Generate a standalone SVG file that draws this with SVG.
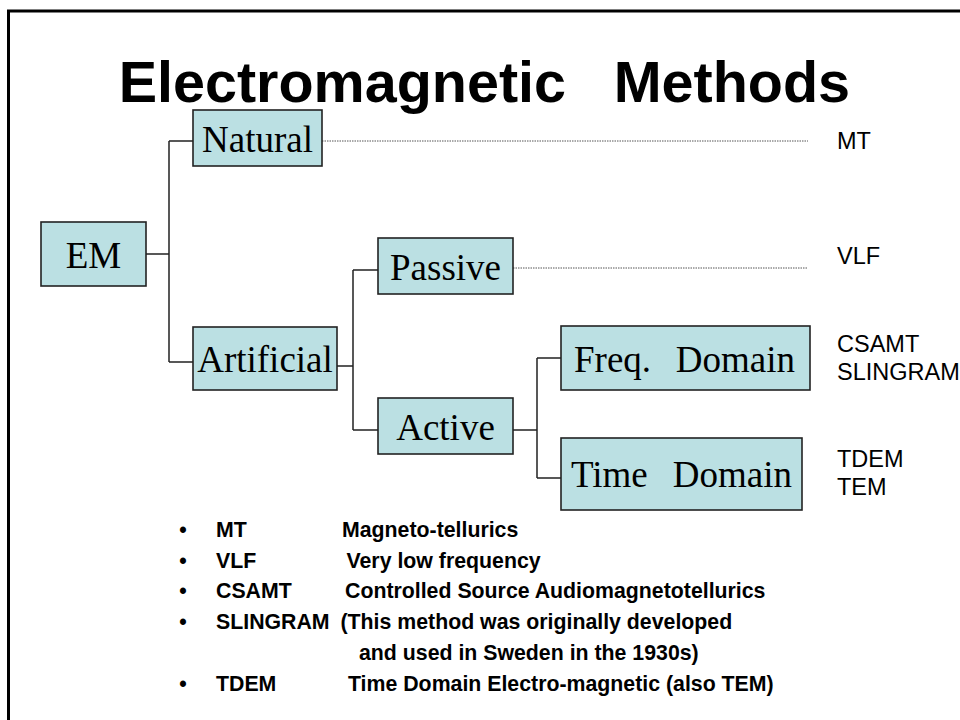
<svg xmlns="http://www.w3.org/2000/svg" width="960" height="720" viewBox="0 0 960 720">
<style>
.node rect{fill:#BBE0E3;stroke:#222;stroke-width:1.6}
.node text{font-family:"Liberation Serif","Times New Roman",serif;font-size:37px;fill:#000;text-anchor:middle}
.conn{fill:none;stroke:#222;stroke-width:1.5}
.dot{fill:none;stroke:#555;stroke-width:1;stroke-dasharray:1.5 1}
.lbl{font-family:"Liberation Sans",Arial,sans-serif;font-size:23.5px;fill:#000}
.title{font-family:"Liberation Sans",Arial,sans-serif;font-size:57.5px;font-weight:bold;fill:#000}
.bl{font-family:"Liberation Sans",Arial,sans-serif;font-size:21.3px;font-weight:bold;fill:#000}
</style>
<rect width="960" height="720" fill="#fff"/>
<rect x="8.5" y="11" width="1000" height="800" fill="none" stroke="#000" stroke-width="3"/>
<text class="title" x="118.7" y="101.5">Electromagnetic</text>
<text class="title" x="613.7" y="101.5">Methods</text>
<g id="connectors">
<path class="conn" d="M146,254H169M169,141V362M169,141H193M169,362H193"/>
<path class="conn" d="M337,366H353M353,270V430M353,270H378M353,430H378"/>
<path class="conn" d="M513,430H537M537,358V478M537,358H561M537,478H561"/>
<path class="dot" d="M322,141H808"/>
<path class="dot" d="M513,268H808"/>
</g>
<g id="EM" class="node"><rect x="41" y="222" width="105" height="64"/><text x="93.5" y="267.7">EM</text></g>
<g id="Natural" class="node"><rect x="193" y="110" width="129" height="56"/><text x="257.5" y="151.7">Natural</text></g>
<g id="Artificial" class="node"><rect x="193" y="327" width="144" height="63"/><text x="265" y="371.7">Artificial</text></g>
<g id="Passive" class="node"><rect x="378" y="238" width="135" height="56"/><text x="445.5" y="280">Passive</text></g>
<g id="Active" class="node"><rect x="378" y="398" width="135" height="56"/><text x="445.5" y="440">Active</text></g>
<g id="FreqDomain" class="node"><rect x="561" y="326" width="249" height="64"/><text x="574" y="371.7" style="text-anchor:start">Freq.</text><text x="795" y="371.7" style="text-anchor:end">Domain</text></g>
<g id="TimeDomain" class="node"><rect x="561" y="438" width="241" height="72"/><text x="571" y="486.7" style="text-anchor:start">Time</text><text x="792" y="486.7" style="text-anchor:end">Domain</text></g>
<g id="labels">
<text class="lbl" x="837" y="149">MT</text>
<text class="lbl" x="837" y="264.3">VLF</text>
<text class="lbl" x="837" y="352">CSAMT</text>
<text class="lbl" x="837" y="380">SLINGRAM</text>
<text class="lbl" x="837" y="467">TDEM</text>
<text class="lbl" x="837" y="495">TEM</text>
</g>
<g id="legend" class="bl">
<text x="183" y="537" text-anchor="middle">•</text><text x="216" y="537">MT</text><text x="342" y="537">Magneto-tellurics</text>
<text x="183" y="567.7" text-anchor="middle">•</text><text x="216" y="567.7">VLF</text><text x="346.5" y="567.7">Very low frequency</text>
<text x="183" y="598.4" text-anchor="middle">•</text><text x="216" y="598.4">CSAMT</text><text x="345" y="598.4">Controlled Source Audiomagnetotellurics</text>
<text x="183" y="629.1" text-anchor="middle">•</text><text x="216" y="629.1">SLINGRAM</text><text x="340.5" y="629.1">(This method was originally developed</text>
<text x="359" y="659.8">and used in Sweden in the 1930s)</text>
<text x="183" y="690.5" text-anchor="middle">•</text><text x="216" y="690.5">TDEM</text><text x="348" y="690.5">Time Domain Electro-magnetic (also TEM)</text>
</g>
</svg>
